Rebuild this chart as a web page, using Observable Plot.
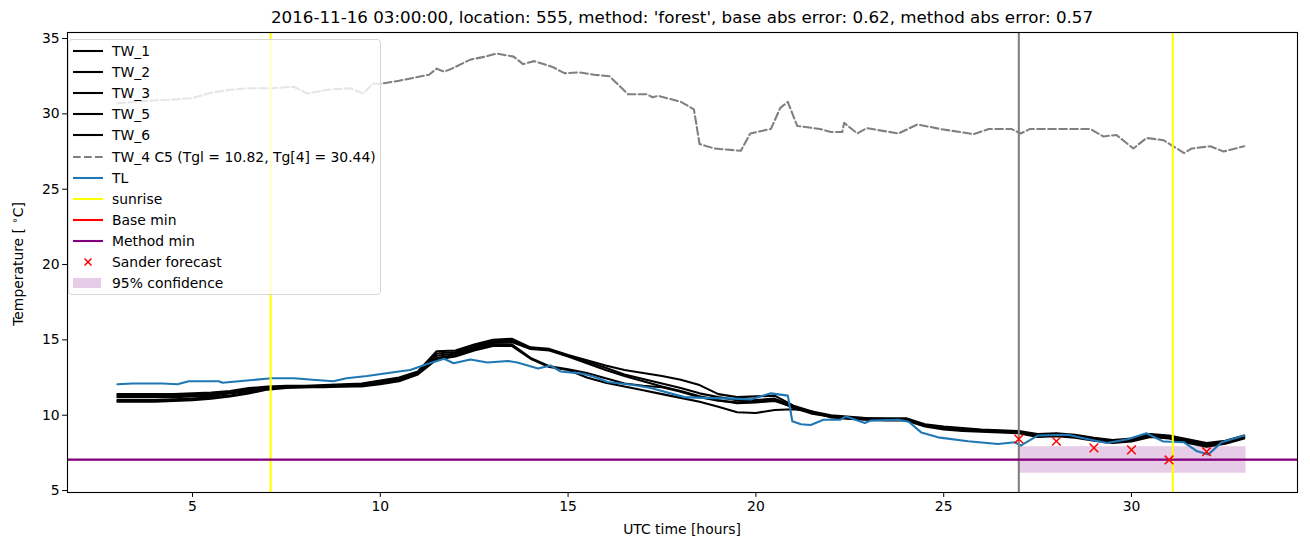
<!DOCTYPE html>
<html><head><meta charset="utf-8">
<script src="https://cdn.jsdelivr.net/npm/d3@7"></script>
<script src="https://cdn.jsdelivr.net/npm/@observablehq/plot@0.6"></script>
<style>
body{margin:0;background:#fff;font-family:"DejaVu Sans",sans-serif;}
#wrap{position:relative;width:1310px;height:547px;}
#title{position:absolute;top:7px;left:67px;width:1230px;text-align:center;font-size:16.7px;line-height:20px;}
#ylab{position:absolute;left:18px;top:264px;transform:translate(-50%,-50%) rotate(-90deg);font-size:13.9px;white-space:nowrap;}
#xlab{position:absolute;top:520px;left:67px;width:1230px;text-align:center;font-size:13.9px;line-height:18px;}
#legend{position:absolute;left:68px;top:39px;width:313px;height:256px;border:1px solid #d6d6d6;border-radius:4px;background:rgba(255,255,255,0.8);font-size:13.9px;box-sizing:border-box;}
.item{position:absolute;left:0;height:18px;}
.item svg{position:absolute;left:3px;top:0;}
.item span{position:absolute;left:43px;top:0;white-space:nowrap;line-height:18px;}
</style></head>
<body>
<div id="wrap">
<div id="chart"></div>
<div id="title"></div>
<div id="ylab">Temperature [ <span style="font-size:10px;position:relative;top:-5px">∘</span>C]</div>
<div id="xlab">UTC time [hours]</div>
<div id="legend"></div>
</div>
<script>
const titleText = "2016-11-16 03:00:00, location: 555, method: 'forest', base abs error: 0.62, method abs error: 0.57";
const twTime = [3,3.5,4,4.5,5,5.5,6,6.5,7,7.5,8,8.5,9,9.5,10,10.5,11,11.5,12,12.5,13,13.5,14,14.5,15,15.5,16,16.5,17,17.5,18,18.5,19,19.5,20,20.5,21,21.5,22,22.5,23,23.5,24,24.5,25,25.5,26,26.5,27,27.5,28,28.5,29,29.5,30,30.5,31,31.5,32,32.5,33];
const TW_1 = [11.4,11.4,11.4,11.4,11.45,11.5,11.6,11.8,11.9,11.95,11.95,12.0,12.05,12.1,12.3,12.5,12.9,14.25,14.3,14.7,15.0,15.07,14.5,14.4,14.0,13.65,13.3,13.0,12.8,12.6,12.35,12.0,11.4,11.2,11.25,11.3,10.63,10.25,10.0,9.9,9.8,9.8,9.8,9.4,9.25,9.15,9.05,9.0,8.95,8.75,8.8,8.7,8.5,8.35,8.45,8.75,8.65,8.4,8.15,8.3,8.65];
const TW_2 = [11.3,11.3,11.3,11.3,11.35,11.4,11.5,11.7,11.85,11.9,11.9,11.95,12.0,12.05,12.2,12.4,12.85,14.1,14.2,14.6,14.9,14.95,14.45,14.35,13.95,13.55,13.15,12.7,12.4,12.1,11.8,11.45,11.2,11.0,11.0,11.1,10.6,10.2,9.95,9.85,9.8,9.75,9.75,9.35,9.2,9.1,9.0,8.95,8.9,8.7,8.75,8.65,8.45,8.3,8.4,8.7,8.6,8.35,8.1,8.25,8.6];
const TW_3 = [11.2,11.2,11.2,11.2,11.25,11.3,11.45,11.6,11.8,11.85,11.9,11.9,11.95,12.0,12.15,12.35,12.8,13.95,14.1,14.5,14.8,14.85,14.4,14.3,13.9,13.45,13.0,12.6,12.25,11.9,11.6,11.25,11.0,10.8,10.85,10.95,10.55,10.15,9.9,9.8,9.75,9.7,9.7,9.3,9.15,9.05,8.95,8.9,8.85,8.65,8.7,8.6,8.4,8.25,8.35,8.65,8.55,8.3,8.0,8.2,8.55];
const TW_5 = [11.0,11.0,11.0,11.05,11.1,11.2,11.3,11.5,11.75,11.85,11.85,11.9,11.9,11.95,12.1,12.3,12.75,13.8,14.0,14.4,14.7,14.7,13.8,13.25,13.05,12.8,12.45,12.1,11.95,11.85,11.55,11.2,10.96,10.85,10.9,11.0,10.5,10.1,9.9,9.8,9.7,9.7,9.7,9.3,9.1,9.0,8.95,8.9,8.85,8.6,8.65,8.55,8.35,8.2,8.3,8.6,8.5,8.2,7.95,8.15,8.5];
const TW_6 = [10.9,10.9,10.9,10.95,11.0,11.1,11.25,11.45,11.7,11.8,11.85,11.85,11.9,11.9,12.05,12.25,12.7,13.7,13.9,14.3,14.6,14.6,13.75,13.2,13.0,12.5,12.15,11.9,11.65,11.4,11.15,10.9,10.56,10.2,10.15,10.35,10.4,10.25,9.85,9.75,9.7,9.65,9.65,9.25,9.05,8.95,8.9,8.85,8.8,8.55,8.6,8.5,8.3,8.15,8.25,8.55,8.45,8.15,7.9,8.1,8.45];
const tw4Time = [3,3.5,4,4.5,5,5.5,6,6.5,7.1,7.7,8.05,8.6,9.2,9.55,9.8,10,10.5,10.9,11.3,11.5,11.7,11.9,12.4,12.8,13.1,13.55,13.8,14.1,14.6,14.9,15.3,15.7,16.1,16.6,17.1,17.25,17.4,18,18.35,18.5,18.9,19.6,19.85,20.4,20.65,20.85,21.1,21.7,22,22.3,22.35,22.7,22.95,23.8,24.3,24.9,25.8,26.2,26.8,27.05,27.3,28.9,29.25,29.6,30.05,30.4,30.85,31.4,31.6,32.1,32.45,33];
const TW_4 = [30.7,30.8,30.9,30.95,31.05,31.4,31.6,31.7,31.7,31.8,31.35,31.6,31.7,31.35,32.0,32.0,32.2,32.4,32.6,33.0,32.8,33.0,33.6,33.8,34.0,33.8,33.3,33.5,33.1,32.7,32.75,32.6,32.5,31.3,31.3,31.1,31.2,30.8,30.3,28.0,27.7,27.55,28.7,29.0,30.4,30.8,29.2,29.0,28.8,28.8,29.4,28.7,29.05,28.7,29.3,29.0,28.65,29.0,29.0,28.7,29.0,29.0,28.5,28.6,27.7,28.4,28.25,27.4,27.7,27.85,27.5,27.85];
const tlTime = [3,3.4,4.2,4.6,4.9,5.7,5.8,6.45,7.1,7.7,8.2,8.75,9.1,9.65,10.35,10.8,11.25,11.7,11.95,12.4,12.85,13.4,13.65,14.2,14.53,14.8,15.4,15.7,16.05,16.75,17.2,18.1,18.6,19.4,19.86,20.4,20.85,20.97,21.2,21.46,21.8,22.25,22.4,22.9,23.05,23.8,24.07,24.4,24.85,25.65,26.44,26.9,27.05,27.5,28.3,28.85,29.35,29.9,30.4,30.85,31.4,31.75,32.05,32.4,33];
const TL = [12.05,12.1,12.1,12.05,12.25,12.25,12.15,12.3,12.45,12.45,12.35,12.25,12.45,12.6,12.85,13.0,13.4,13.75,13.45,13.7,13.5,13.6,13.5,13.1,13.3,12.9,12.75,12.55,12.2,12.0,11.8,11.2,11.15,11.1,11.05,11.45,11.3,9.6,9.4,9.35,9.7,9.7,9.92,9.48,9.64,9.7,9.57,8.86,8.53,8.27,8.09,8.2,7.98,8.65,8.7,8.4,8.15,8.4,8.8,8.25,8.2,7.6,7.4,8.2,8.65];
const sunrise = [7.08, 31.1];
const forecastStart = [27.0];
const baseMin = [7.05];
const methodMin = [7.05];
const sanderTime = [27,28,29,30,31,32];
const sanderTemp = [8.42,8.27,7.83,7.7,7.03,7.58];
const confTime = [27, 33.05];
const confLow = [6.15, 6.15];
const confHigh = [7.91, 7.91];
const xTicks = [5,10,15,20,25,30];
const yTicks = [5,10,15,20,25,30,35];

document.getElementById("title").textContent = titleText;

const twSeries = {TW_1, TW_2, TW_3, TW_5, TW_6};
const twData = [];
for (const [name, vals] of Object.entries(twSeries)) vals.forEach((v,i)=>twData.push({name, t: twTime[i], v}));
const tw4Data = tw4Time.map((t,i)=>({t, v: TW_4[i]}));
const tlData = tlTime.map((t,i)=>({t, v: TL[i]}));
const confData = [{x1: confTime[0], x2: confTime[1], y1: confLow[0], y2: confHigh[0]}];
const sanderData = sanderTime.map((t,i)=>({t, v: sanderTemp[i]}));

const LW = 2.08;
const chart = Plot.plot({
  width: 1310, height: 547,
  marginLeft: 67, marginRight: 13, marginTop: 32, marginBottom: 55,
  style: {fontFamily: "DejaVu Sans", fontSize: "13.9px", color: "black", background: "white"},
  x: {domain: [1.672, 34.42], label: null},
  y: {domain: [4.87, 35.4], label: null},
  marks: [
    Plot.rect(confData, {x1: "x1", x2: "x2", y1: "y1", y2: "y2", fill: "purple", fillOpacity: 0.2}),
    Plot.line(twData, {x: "t", y: "v", z: "name", stroke: "black", strokeWidth: LW}),
    Plot.line(tw4Data, {x: "t", y: "v", stroke: "gray", strokeWidth: LW, strokeDasharray: "7.7,3.3"}),
    Plot.line(tlData, {x: "t", y: "v", stroke: "#1f77b4", strokeWidth: LW}),
    Plot.ruleX(sunrise, {stroke: "yellow", strokeWidth: LW}),
    Plot.ruleX(forecastStart, {stroke: "gray", strokeWidth: LW}),
    Plot.ruleY(baseMin, {stroke: "red", strokeWidth: 1.2}),
    Plot.ruleY(methodMin, {stroke: "purple", strokeWidth: LW + 0.3}),
    Plot.dot(sanderData, {x: "t", y: "v", symbol: "times", r: 4, stroke: "red", strokeWidth: 1.5}),
    Plot.frame({stroke: "black", strokeWidth: 1.1}),
    Plot.axisX({ticks: xTicks, tickSize: 4.9, tickPadding: 4, tickFormat: d => String(d), label: null}),
    Plot.axisY({ticks: yTicks, tickSize: 4.9, tickPadding: 3, tickFormat: d => String(d), label: null})
  ]
});
document.getElementById("chart").appendChild(chart);

const legendItems = [
  {label: "TW_1", type: "line", color: "black"},
  {label: "TW_2", type: "line", color: "black"},
  {label: "TW_3", type: "line", color: "black"},
  {label: "TW_5", type: "line", color: "black"},
  {label: "TW_6", type: "line", color: "black"},
  {label: "TW_4 C5 (Tgl = 10.82, Tg[4] = 30.44)", type: "dash", color: "gray"},
  {label: "TL", type: "line", color: "#1f77b4"},
  {label: "sunrise", type: "line", color: "yellow"},
  {label: "Base min", type: "line", color: "red"},
  {label: "Method min", type: "line", color: "purple"},
  {label: "Sander forecast", type: "x", color: "red"},
  {label: "95% confidence", type: "patch", color: "purple"}
];
const lg = document.getElementById("legend");
legendItems.forEach((it, i) => {
  const d = document.createElement("div");
  d.className = "item";
  d.style.top = (2 + i * 21.1) + "px";
  d.style.width = "305px";
  let g = "";
  if (it.type === "line") g = `<line x1="1" x2="31" y1="9" y2="9" stroke="${it.color}" stroke-width="${LW}"/>`;
  else if (it.type === "dash") g = `<line x1="1" x2="31" y1="9" y2="9" stroke="${it.color}" stroke-width="${LW}" stroke-dasharray="7.7,3.3"/>`;
  else if (it.type === "x") g = `<path d="M12.5 5.5 L19.5 12.5 M19.5 5.5 L12.5 12.5" stroke="${it.color}" stroke-width="1.5"/>`;
  else g = `<rect x="1" y="4" width="28" height="10" fill="${it.color}" fill-opacity="0.2"/>`;
  d.innerHTML = `<svg width="34" height="18">${g}</svg><span>${it.label}</span>`;
  lg.appendChild(d);
});
</script>
</body></html>
